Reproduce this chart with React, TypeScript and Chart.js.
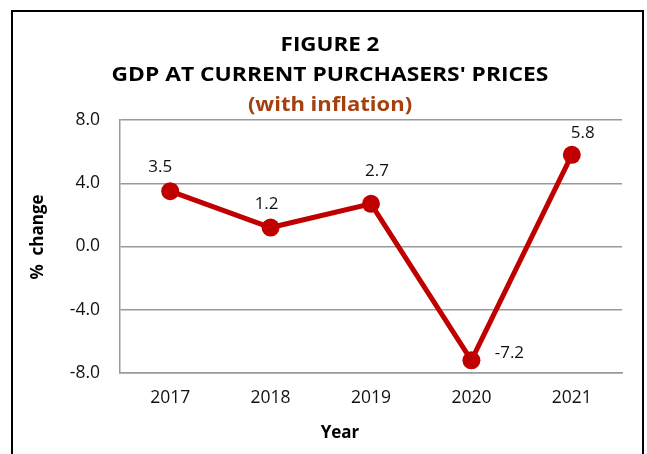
import React, { useEffect, useRef } from "react";
import { Chart, registerables } from "chart.js";

Chart.register(...registerables);

const years = ["2017", "2018", "2019", "2020", "2021"];
const gdpChange = [3.5, 1.2, 2.7, -7.2, 5.8];
const titleLines = ["FIGURE 2", "GDP AT CURRENT PURCHASERS' PRICES"];
const subtitleText = "(with inflation)";
const yAxisTitle = "%  change";
const xAxisTitle = "Year";

const FONT = "'Open Sans', 'Noto Sans', sans-serif";
const LINE_RED = "#c00000";
const SUB_BROWN = "#a4410f";
// label offsets relative to each point (style only)
const labelOffsets = [
  [-10, -24],
  [-4, -23],
  [6, -33],
  [38, -7],
  [11, -22],
];

function stretchedText(ctx: any, text: string, x: number, y: number, sx: number) {
  ctx.save();
  ctx.translate(x, y);
  ctx.scale(sx, 1);
  ctx.fillText(text, 0, 0);
  ctx.restore();
}

const overlayPlugin = {
  id: "overlay",
  afterDraw(chart: any) {
    const ctx = chart.ctx;
    ctx.save();
    ctx.textAlign = "center";
    ctx.textBaseline = "middle";
    ctx.fillStyle = "#000";
    ctx.font = `bold 20px ${FONT}`;
    stretchedText(ctx, titleLines[0], 330, 45, 1.12);
    stretchedText(ctx, titleLines[1], 330, 75, 1.14);
    ctx.fillStyle = SUB_BROWN;
    stretchedText(ctx, subtitleText, 330, 105, 1.1);

    ctx.fillStyle = "#000";
    ctx.font = `bold 17px ${FONT}`;
    ctx.fillText(xAxisTitle, 340, 433);
    ctx.save();
    ctx.translate(38, 237);
    ctx.rotate(-Math.PI / 2);
    ctx.fillText(yAxisTitle, 0, 0);
    ctx.restore();

    const meta = chart.getDatasetMeta(0);
    ctx.font = `17px ${FONT}`;
    ctx.fillStyle = "#111";
    meta.data.forEach((pt: any, i: number) => {
      const [dx, dy] = labelOffsets[i];
      ctx.fillText(gdpChange[i].toFixed(1), pt.x + dx, pt.y + dy);
    });
    ctx.restore();
  },
};

export default function App() {
  const ref = useRef<HTMLCanvasElement>(null);
  useEffect(() => {
    const chart = new Chart(ref.current!, {
      type: "line",
      data: {
        labels: years,
        datasets: [
          {
            data: gdpChange,
            borderColor: LINE_RED,
            backgroundColor: LINE_RED,
            borderWidth: 5,
            pointRadius: 9,
            pointBorderWidth: 0,
            pointBackgroundColor: LINE_RED,
            tension: 0,
          },
        ],
      },
      options: {
        animation: false,
        responsive: false,
        maintainAspectRatio: false,
        layout: { padding: { top: 120, right: 25, bottom: 0, left: 0 } },
        plugins: {
          legend: { display: false },
          tooltip: { enabled: false },
          title: { display: false },
        },
        scales: {
          x: {
            offset: true,
            grid: { display: false, drawTicks: false },
            border: { display: true, color: "#999", width: 1.5 },
            ticks: { color: "#111", font: { family: FONT, size: 17.5 }, padding: 15 },
            afterFit: (s: any) => {
              s.height = 81;
            },
          },
          y: {
            min: -8,
            max: 8,
            grid: { color: "#9a9a9a", lineWidth: 1.5, drawTicks: false },
            border: { display: true, color: "#999", width: 1.5 },
            ticks: {
              stepSize: 4,
              color: "#111",
              padding: 20,
              font: { family: FONT, size: 17.5 },
              callback: (v: any) => Number(v).toFixed(1),
            },
            afterFit: (s: any) => {
              s.width = 120;
            },
          },
        },
      },
      plugins: [overlayPlugin],
    });
    return () => chart.destroy();
  }, []);

  return (
    <div style={{ position: "fixed", left: 0, top: 0, width: 647, height: 454, background: "#fff", overflow: "hidden" }}>
      <div
        style={{
          position: "absolute",
          left: 11,
          top: 10,
          width: 629,
          height: 470,
          border: "2px solid #000",
        }}
      />
      <canvas ref={ref} width={647} height={454} style={{ position: "absolute", left: 0, top: 0 }} />
    </div>
  );
}
